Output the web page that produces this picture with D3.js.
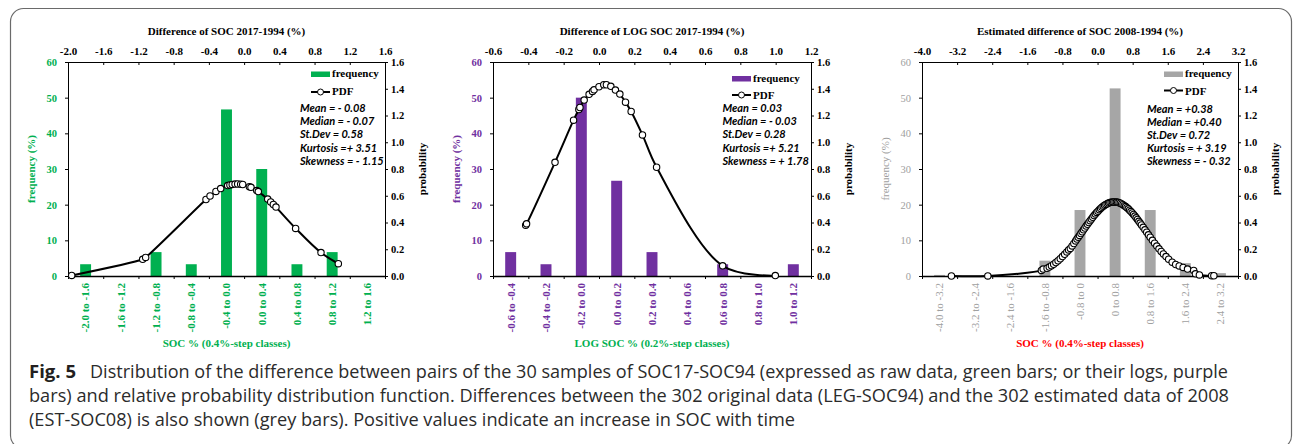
<!DOCTYPE html>
<html><head><meta charset="utf-8">
<script src="https://cdn.jsdelivr.net/npm/d3@7"></script>
<style>body{margin:0;background:#fff;} svg{display:block;}</style>
</head><body><svg id="c" width="1293" height="444"></svg>
<script>
// ---------- DATA ----------
const catsA = ["-2.0 to -1.6","-1.6 to -1.2","-1.2 to -0.8","-0.8 to -0.4","-0.4 to 0.0","0.0 to 0.4","0.4 to 0.8","0.8 to 1.2","1.2 to 1.6"];
const freqA = [3.3, 0, 6.7, 3.3, 46.7, 30.0, 3.3, 6.7, 0];
const topTicksA = [-2.0,-1.6,-1.2,-0.8,-0.4,0.0,0.4,0.8,1.2,1.6];
const topLabelsA = ["-2.0","-1.6","-1.2","-0.8","-0.4","0.0","0.4","0.8","1.2","1.6"];
const pdfXA = [-1.958,-1.152,-1.118,-0.433,-0.387,-0.32,-0.266,-0.187,-0.161,-0.135,-0.103,-0.073,-0.039,-0.016,0.06,0.078,0.143,0.161,0.268,0.302,0.332,0.362,0.585,0.873,1.07];
const pdfYA = [0.004,0.125,0.139,0.572,0.598,0.632,0.654,0.676,0.681,0.685,0.687,0.688,0.686,0.684,0.668,0.663,0.639,0.631,0.575,0.554,0.535,0.515,0.356,0.175,0.092];
const statsA = ["Mean = - 0.08","Median = - 0.07","St.Dev = 0.58","Kurtosis =+ 3.51","Skewness = - 1.15"];

const catsB = ["-0.6 to -0.4","-0.4 to -0.2","-0.2 to 0.0","0.0 to 0.2","0.2 to 0.4","0.4 to 0.6","0.6 to 0.8","0.8 to 1.0","1.0 to 1.2"];
const freqB = [6.7, 3.3, 50.0, 26.7, 6.7, 0, 3.3, 0, 3.3];
const topTicksB = [-0.6,-0.4,-0.2,0.0,0.2,0.4,0.6,0.8,1.0,1.2];
const topLabelsB = ["-0.6","-0.4","-0.2","0.0","0.2","0.4","0.6","0.8","1.0","1.2"];
const pdfXB = [-0.415,-0.41,-0.249,-0.144,-0.114,-0.108,-0.084,-0.056,-0.037,-0.028,0.0,0.027,0.042,0.067,0.093,0.118,0.15,0.182,0.246,0.326,0.7,0.998];
const pdfYB = [0.38,0.39,0.85,1.165,1.245,1.26,1.315,1.358,1.38,1.392,1.415,1.43,1.43,1.418,1.39,1.36,1.3,1.23,1.055,0.813,0.076,0.003];
const statsB = ["Mean = 0.03","Median = - 0.03","St.Dev = 0.28","Kurtosis =+ 5.21","Skewness = + 1.78"];

const catsC = ["-4.0 to -3.2","-3.2 to -2.4","-2.4 to -1.6","-1.6 to -0.8","-0.8 to 0","0 to 0.8","0.8 to 1.6","1.6 to 2.4","2.4 to 3.2"];
const freqC = [0.3, 0, 0, 4.3, 18.5, 52.6, 18.5, 3.6, 0.8];
const topTicksC = [-4.0,-3.2,-2.4,-1.6,-0.8,0.0,0.8,1.6,2.4,3.2];
const topLabelsC = ["-4.0","-3.2","-2.4","-1.6","-0.8","0.0","0.8","1.6","2.4","3.2"];
const pdfXC = [-3.33,-2.5,-1.28,-1.24,-1.15,-1.1,-1.05,-1.0,-0.95,-0.9,-0.85,-0.8,-0.75,-0.7,-0.66,-0.62,-0.58,-0.54,-0.5,-0.47,-0.44,-0.41,-0.38,-0.35,-0.32,-0.29,-0.26,-0.23,-0.2,-0.17,-0.14,-0.11,-0.08,-0.05,-0.02,0.01,0.04,0.07,0.1,0.13,0.16,0.19,0.22,0.25,0.28,0.31,0.34,0.37,0.4,0.43,0.46,0.49,0.52,0.55,0.58,0.61,0.64,0.67,0.7,0.73,0.76,0.79,0.82,0.85,0.88,0.91,0.94,0.97,1.0,1.04,1.08,1.12,1.16,1.2,1.25,1.3,1.35,1.4,1.45,1.5,1.56,1.62,1.7,1.78,1.86,1.95,2.05,2.19,2.23,2.32,2.6,2.65];
const pdfYC = [0.000,0.0003,0.042,0.052,0.058,0.067,0.077,0.088,0.101,0.114,0.129,0.145,0.162,0.180,0.195,0.206,0.225,0.243,0.262,0.276,0.290,0.303,0.317,0.331,0.345,0.359,0.373,0.387,0.400,0.414,0.427,0.439,0.452,0.464,0.475,0.485,0.496,0.505,0.514,0.522,0.529,0.535,0.540,0.545,0.549,0.551,0.553,0.554,0.554,0.553,0.551,0.548,0.544,0.539,0.533,0.526,0.519,0.511,0.502,0.492,0.482,0.471,0.460,0.448,0.435,0.423,0.409,0.396,0.382,0.364,0.345,0.327,0.308,0.290,0.267,0.245,0.224,0.203,0.184,0.165,0.145,0.126,0.103,0.086,0.075,0.064,0.052,0.042,0.016,0.008,0.002,0.002];
const statsC = ["Mean = +0.38","Median = +0.40","St.Dev = 0.72","Kurtosis = + 3.19","Skewness = - 0.32"];

const freqTicks = [0,10,20,30,40,50,60];
const probTicks = [0,0.2,0.4,0.6,0.8,1.0,1.2,1.4,1.6];

const captionBold = "Fig. 5";
const captionLines = [
  "Distribution of the difference between pairs of the 30 samples of SOC17-SOC94 (expressed as raw data, green bars; or their logs, purple",
  "bars) and relative probability distribution function. Differences between the 302 original data (LEG-SOC94) and the 302 estimated data of 2008",
  "(EST-SOC08) is also shown (grey bars). Positive values indicate an increase in SOC with time"
];

// ---------- DRAW ----------
const svg = d3.select("#c");
const SERIF = "'Liberation Serif','Times New Roman',serif";
const STATF = "Lato,'Liberation Sans',sans-serif";

svg.append("rect").attr("x",10.5).attr("y",8.5).attr("width",1281).attr("height",440).attr("rx",13)
  .attr("fill","none").attr("stroke","#6a6a6a").attr("stroke-width",1.2);

const panels = [
  {x0:68, x1:385, cats:catsA, freq:freqA, topTicks:topTicksA, topLabels:topLabelsA, px:pdfXA, py:pdfYA, stats:statsA,
   title:"Difference of SOC 2017-1994 (%)", xTitle:"SOC % (0.4%-step classes)", xTitleColor:"#00b050",
   barColor:"#00b050", leftColor:"#00b050", catColor:"#00b050", weight:"bold",
   leg:{rx:311, ry:71.5, ly:92, py:94.5, fy:77}, statX:300, statY:112},
  {x0:493, x1:811, cats:catsB, freq:freqB, topTicks:topTicksB, topLabels:topLabelsB, px:pdfXB, py:pdfYB, stats:statsB,
   title:"Difference of LOG SOC 2017-1994 (%)", xTitle:"LOG SOC % (0.2%-step classes)", xTitleColor:"#00b050",
   barColor:"#7030a0", leftColor:"#7030a0", catColor:"#7030a0", weight:"bold",
   leg:{rx:732, ry:76, ly:95, py:99, fy:82}, statX:722.5, statY:112},
  {x0:922, x1:1238, cats:catsC, freq:freqC, topTicks:topTicksC, topLabels:topLabelsC, px:pdfXC, py:pdfYC, stats:statsC,
   title:"Estimated difference of SOC 2008-1994 (%)", xTitle:"SOC % (0.4%-step classes)", xTitleColor:"#ff0000",
   barColor:"#a6a6a6", leftColor:"#a0a0a0", catColor:"#a0a0a0", weight:"normal",
   leg:{rx:1164, ry:71.5, ly:90.5, py:94.5, fy:77}, statX:1147, statY:112.5}
];

const y0 = 62, y1 = 276;

function styleAxis(sel, color, weight, size){
  sel.attr("font-family", SERIF).attr("font-size", size).attr("font-weight", weight);
  sel.selectAll("text").attr("fill", color);
  sel.selectAll("line").attr("stroke", "#000");
  sel.select(".domain").attr("stroke", "#000");
}

panels.forEach(p => {
  const g = svg.append("g");
  const n = p.cats.length;
  const xBand = d3.scaleBand().domain(p.cats).range([p.x0, p.x1]).paddingInner(0.69).paddingOuter(0.345);
  const xIdx = d3.scaleLinear().domain([0, n]).range([p.x0, p.x1]);
  const xTop = d3.scaleLinear().domain([p.topTicks[0], p.topTicks[p.topTicks.length-1]]).range([p.x0, p.x1]);
  const yF = d3.scaleLinear().domain([0, 60]).range([y1, y0]);
  const yP = d3.scaleLinear().domain([0, 1.6]).range([y1, y0]);

  // bars
  g.append("g").selectAll("rect").data(p.freq).join("rect")
    .attr("x", (d,i) => xBand(p.cats[i])).attr("width", xBand.bandwidth())
    .attr("y", d => yF(d)).attr("height", d => y1 - yF(d)).attr("fill", p.barColor);

  // top axis
  const gt = g.append("g").attr("transform", `translate(0,${y0})`)
    .call(d3.axisTop(xTop).tickValues(p.topTicks).tickFormat((d,i) => p.topLabels[i]).tickSizeInner(-3).tickSizeOuter(0).tickPadding(7));
  styleAxis(gt, "#000", "bold", 11);

  // left axis
  const gl = g.append("g").attr("transform", `translate(${p.x0},0)`)
    .call(d3.axisLeft(yF).tickValues(freqTicks).tickFormat(d3.format("d")).tickSize(3).tickSizeOuter(0).tickPadding(8));
  styleAxis(gl, p.leftColor, p.weight, 10.5);

  // right axis
  const gr = g.append("g").attr("transform", `translate(${p.x1},0)`)
    .call(d3.axisRight(yP).tickValues(probTicks).tickFormat(d3.format(".1f")).tickSize(3).tickSizeOuter(0).tickPadding(3));
  styleAxis(gr, "#000", "bold", 10.5);

  // bottom axis: boundaries
  const gb = g.append("g").attr("transform", `translate(0,${y1})`)
    .call(d3.axisBottom(xIdx).tickValues(d3.range(n+1)).tickFormat("").tickSize(3).tickSizeOuter(0));
  styleAxis(gb, "#000", "bold", 11);
  gb.select(".domain").attr("stroke-width", 1.6);

  // bottom category labels
  const gc = g.append("g").attr("transform", `translate(0,${y1})`)
    .call(d3.axisBottom(xBand).tickSize(0).tickPadding(0));
  gc.select(".domain").remove();
  gc.attr("font-family", SERIF).attr("font-size", 11).attr("font-weight", p.weight);
  gc.selectAll("text").attr("fill", p.catColor).attr("transform", "rotate(-90)")
    .attr("text-anchor", "end").attr("x", -7).attr("y", 0).attr("dy", "0.35em");

  // PDF line + markers
  const pts = p.px.map((x,i) => [xTop(x), yP(p.py[i])]);
  g.append("path").attr("d", d3.line().curve(d3.curveCatmullRom)(pts))
    .attr("fill", "none").attr("stroke", "#000").attr("stroke-width", 2);
  g.append("g").selectAll("circle").data(pts).join("circle")
    .attr("cx", d => d[0]).attr("cy", d => d[1]).attr("r", 3.2)
    .attr("fill", "#fff").attr("stroke", "#000").attr("stroke-width", 1.1);

  // titles
  const cx = (p.x0 + p.x1) / 2;
  g.append("text").attr("x", cx).attr("y", 34.5).attr("text-anchor", "middle")
    .attr("font-family", SERIF).attr("font-weight", "bold").attr("font-size", 11).text(p.title);
  g.append("text").attr("x", cx).attr("y", 347).attr("text-anchor", "middle")
    .attr("font-family", SERIF).attr("font-weight", "bold").attr("font-size", 11)
    .attr("fill", p.xTitleColor).text(p.xTitle);
  g.append("text")
    .attr("transform", `translate(${p.x0-37},${(y0+y1)/2}) rotate(-90)`)
    .attr("text-anchor", "middle").attr("dominant-baseline", "central")
    .attr("font-family", SERIF).attr("font-weight", p.weight).attr("font-size", 11)
    .attr("fill", p.leftColor).text("frequency (%)");
  g.append("text").attr("transform", `translate(${p.x1+37},${(y0+y1)/2}) rotate(-90)`)
    .attr("text-anchor", "middle").attr("dominant-baseline", "central")
    .attr("font-family", SERIF).attr("font-weight", "bold").attr("font-size", 11)
    .attr("fill", "#000").text("probability");

  // legend
  const L = p.leg;
  g.append("rect").attr("x", L.rx).attr("y", L.ry).attr("width", 19).attr("height", 5.5).attr("fill", p.barColor);
  g.append("text").attr("x", L.rx + 21).attr("y", L.fy).attr("font-family", SERIF).attr("font-weight", "bold")
    .attr("font-size", 11).text("frequency");
  g.append("line").attr("x1", L.rx).attr("x2", L.rx + 19).attr("y1", L.ly).attr("y2", L.ly)
    .attr("stroke", "#000").attr("stroke-width", 2);
  g.append("circle").attr("cx", L.rx + 9.5).attr("cy", L.ly).attr("r", 3)
    .attr("fill", "#fff").attr("stroke", "#000").attr("stroke-width", 1);
  g.append("text").attr("x", L.rx + 21).attr("y", L.py).attr("font-family", SERIF).attr("font-weight", "bold")
    .attr("font-size", 11).text("PDF");

  // stats
  g.append("g").selectAll("text").data(p.stats).join("text")
    .attr("x", p.statX).attr("y", (d,i) => p.statY + i*13.2)
    .attr("font-family", STATF).attr("font-style", "italic").attr("font-weight", "bold")
    .attr("font-size", 11).text(d => d);
});

// caption
const CAPF = "'Open Sans','Noto Sans',sans-serif";
svg.append("text").attr("x", 29).attr("y", 378).attr("font-family", CAPF).attr("font-weight", "bold")
  .attr("font-size", 17.5).attr("fill", "#231f20").attr("textLength", 47).attr("lengthAdjust", "spacingAndGlyphs").text(captionBold);
const capX = [90, 29, 29], capY = [378, 402, 425.5], capLen = [1138, 1200, 766];
captionLines.forEach((t,i) => {
  svg.append("text").attr("x", capX[i]).attr("y", capY[i]).attr("font-family", CAPF)
    .attr("font-size", 17.5).attr("fill", "#2b2b2b")
    .attr("textLength", capLen[i]).attr("lengthAdjust", "spacingAndGlyphs").text(t);
});
</script></body></html>
